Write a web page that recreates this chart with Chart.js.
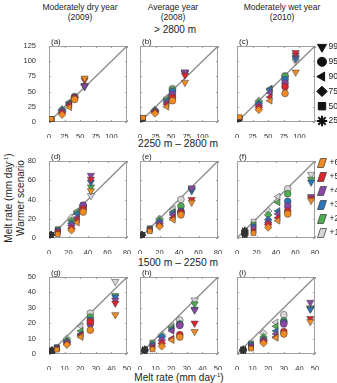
<!DOCTYPE html>
<html><head><meta charset="utf-8">
<script src="https://cdn.jsdelivr.net/npm/chart.js@4"></script>
<style>
body{margin:0;background:#fff;width:337px;height:383px;overflow:hidden;position:relative;font-family:"Liberation Sans",Arial,sans-serif;color:#222}
.box{position:absolute}
.t{position:absolute;white-space:nowrap;transform:translate(-50%,-50%);line-height:1}
.r{position:absolute;white-space:nowrap;transform:translate(-50%,-50%) rotate(-90deg);line-height:1;font-size:10px}
sup{font-size:6px;vertical-align:4px}
</style></head><body>
<div class="t" style="left:80px;top:7px;font-size:8.5px">Moderately dry year</div>
<div class="t" style="left:80px;top:17px;font-size:8.5px">(2009)</div>
<div class="t" style="left:173px;top:7px;font-size:8.5px">Average year</div>
<div class="t" style="left:173px;top:17px;font-size:8.5px">(2008)</div>
<div class="t" style="left:282px;top:7px;font-size:8.5px">Moderately wet year</div>
<div class="t" style="left:282px;top:17px;font-size:8.5px">(2010)</div>
<div class="t" style="left:175px;top:30px;font-size:10px">&gt; 2800 m</div>
<div class="t" style="left:178px;top:144px;font-size:10.3px">2250 m – 2800 m</div>
<div class="t" style="left:178px;top:263px;font-size:10.3px">1500 m – 2250 m</div>
<div class="t" style="left:179px;top:377px;font-size:10px">Melt rate (mm day<sup>-1</sup>)</div>
<div class="r" style="left:8px;top:198px">Melt rate (mm day<sup>-1</sup>)</div>
<div class="r" style="left:21px;top:198px">Warmer scenario</div>

<script>
// warming levels (+1 .. +6 degC) and their colours
const LEVELS = ['+1', '+2', '+3', '+4', '+5', '+6'];
const COLORS = ['#d6d6d6', '#4fae52', '#2b76bb', '#8c47a6', '#d8262e', '#f08b22'];
// melt-rate percentiles, per point: 25th, 50th, 75th, 90th, 95th, 99th
const PCTL = ['25th', '50th', '75th', '90th', '95th', '99th'];
const SHAPES = ['star', 'rect', 'rectRot', 'triangle', 'circle', 'triangle'];
const ROTS = [0, 0, 0, 270, 0, 180];

// > 2800 m
const aX = [2, 4, 21, 33, 41, 57];
const aY = [[3, 5, 21, 33, 42, 58], [3, 5, 20, 32, 41, 59], [3, 4, 19, 31, 40, 60],
            [3, 4, 17, 29, 40, 59], [3, 4, 15, 28, 39, 69], [3, 5, 12, 24, 37, 72]];
const bX = [2, 5, 24, 43, 52, 72];
const bY = [[3, 6, 20, 40, 55, 82], [3, 6, 19, 38, 53, 81], [3, 6, 18, 35, 50, 80],
            [3, 6, 17, 32, 45, 82], [3, 6, 16, 29, 40, 77], [3, 7, 14, 25, 35, 65]];
const cX = [2, 4, 35, 53, 77, 94];
const cY = [[3, 6, 35, 55, 76, 100], [3, 6, 33, 54, 75, 106], [3, 6, 30, 53, 70, 104],
            [3, 6, 27, 48, 64, 110], [3, 7, 24, 41, 58, 114], [3, 8, 20, 35, 47, 82]];
// 2250 - 2800 m
const dX = [2, 9, 23, 29, 35, 43];
const dY = [[3, 9, 21, 28, 31, 44], [3, 9, 18, 27, 33, 53], [3, 8, 15, 25, 34, 58],
            [3, 7, 13, 21, 34, 65], [3, 6, 10, 19, 30, 61], [3, 4, 8, 16, 27, 49]];
const eX = [2, 10, 20, 34, 42, 53];
const eY = [[3, 10, 20, 30, 40, 51], [3, 10, 19, 27, 33, 50], [3, 9, 17, 26, 28, 49],
            [3, 9, 15, 24, 27, 52], [3, 8, 13, 21, 26, 40], [3, 7, 12, 19, 24, 37]];
const fX = [8, 17, 32, 42, 52, 76];
const fY = [[8, 17, 28, 43, 51, 66], [7, 14, 24, 37, 46, 61], [6, 12, 19, 28, 38, 58],
            [5, 10, 16, 25, 33, 43], [4, 7, 14, 21, 28, 41], [3, 5, 11, 18, 25, 39]];
// 1500 - 2250 m
const gX = [2, 5, 11.5, 20.5, 26.5, 42.5];
const gY = [[2.5, 4.5, 10, 18, 26.5, 47], [2.3, 4.3, 9, 15, 24, 38], [2.1, 4, 8, 13, 22, 37],
            [2, 3.8, 7.5, 12.5, 19.5, 35], [1.8, 3.3, 6.5, 12, 21, 33], [1.5, 2.8, 6, 11, 15.5, 25.5]];
const hX = [3, 8, 14, 20.5, 25.5, 35];
const hY = [[3, 7.5, 12.5, 18, 22, 35], [3, 7, 11.5, 17, 19.5, 32.5], [2.8, 6, 11, 16, 19, 29],
            [2.5, 5, 9, 15, 18.5, 28.5], [2.2, 4, 7, 10, 12.5, 20], [1.8, 3, 5, 9, 11, 14.5]];
const iX = [4, 9, 17, 25, 30, 47];
const iY = [[3, 7, 13.5, 20.5, 25.5, 30], [3, 6.5, 11, 18, 21.5, 29.5], [2.8, 6, 9.5, 15, 20.5, 29],
            [2.5, 5, 9, 13, 19.5, 33.5], [2.2, 4, 8, 11, 14.5, 23], [2, 3.5, 7, 10.5, 13, 21]];

const ROW_MAX = [125, 80, 50];
const ROW_STEP = [25, 20, 10];
const COL_X = [49, 140, 237];
const ROW_Y = [46, 161, 277];
const ROW_H = [76, 77, 77];
const PW = 78;

const panels = [
  ['(a)', aX, aY], ['(b)', bX, bY], ['(c)', cX, cY],
  ['(d)', dX, dY], ['(e)', eX, eY], ['(f)', fX, fY],
  ['(g)', gX, gY], ['(h)', hX, hY], ['(i)', iX, iY]
];

const frame = {
  id: 'frame',
  beforeDatasetsDraw(chart, args, o) {
    const {ctx, chartArea: a, scales: {x, y}} = chart;
    ctx.save();
    ctx.strokeStyle = '#a0a0a0'; ctx.lineWidth = 1;
    ctx.strokeRect(a.left + .5, a.top + .5, a.width - 1, a.height - 1);
    ctx.beginPath();
    x.ticks.forEach(t => {
      const p = Math.round(x.getPixelForValue(t.value)) + .5;
      ctx.moveTo(p, a.bottom); ctx.lineTo(p, a.bottom - 2);
      ctx.moveTo(p, a.top); ctx.lineTo(p, a.top + 2);
    });
    y.ticks.forEach(t => {
      const p = Math.round(y.getPixelForValue(t.value)) + .5;
      ctx.moveTo(a.left, p); ctx.lineTo(a.left + 2, p);
      ctx.moveTo(a.right, p); ctx.lineTo(a.right - 2, p);
    });
    ctx.stroke();
    ctx.fillStyle = '#222';
    ctx.font = '8px "Liberation Sans", Arial';
    ctx.textBaseline = 'bottom';
    ctx.fillText(o.label, a.left + 2, a.top);
    ctx.restore();
  }
};

const legends = {
  id: 'legends',
  afterDraw(chart, args, o) {
    if (!o.kind) return;
    const ctx = chart.ctx;
    ctx.save();
    ctx.font = '8.5px "Liberation Sans", Arial';
    ctx.textBaseline = 'middle';
    if (o.kind === 'shape') {
      // 99th at top .. 25th at bottom
      for (let k = 0; k < 6; k++) {
        const j = 5 - k;
        const x = 322 - o.ox, y = 47 + k * 14.8 - o.oy;
        ctx.fillStyle = '#111'; ctx.strokeStyle = '#111'; ctx.lineWidth = j === 0 ? 2 : 1;
        Chart.helpers.drawPoint(ctx, {pointStyle: SHAPES[j], rotation: ROTS[j], radius: j === 4 ? 4.5 : 5.2, borderWidth: 1}, x, y);
        ctx.fillStyle = '#222';
        ctx.fillText(PCTL[j].replace('th', '') , 328.5 - o.ox, y);
      }
    } else {
      for (let k = 0; k < 6; k++) {
        const j = 5 - k;
        const x = 322 - o.ox, y = 163 + k * 14 - o.oy;
        ctx.beginPath();
        ctx.moveTo(x - 4.5, y + 4.5); ctx.lineTo(x + 1.5, y + 4.5);
        ctx.lineTo(x + 4.5, y - 4.5); ctx.lineTo(x - 1.5, y - 4.5); ctx.closePath();
        ctx.fillStyle = COLORS[j]; ctx.fill();
        ctx.strokeStyle = '#444'; ctx.lineWidth = .8; ctx.stroke();
        ctx.fillStyle = '#222';
        ctx.fillText(LEVELS[j] + ' °C', 329.5 - o.ox, y);
      }
    }
    ctx.restore();
  }
};

panels.forEach(([label, xs, ys], n) => {
  const r = Math.floor(n / 3), c = n % 3;
  const max = ROW_MAX[r], step = ROW_STEP[r];
  const left = COL_X[c] - 30, top = ROW_Y[r] - 14;
  const w = c === 2 ? 337 - left : 30 + PW + 8;
  const h = 14 + ROW_H[r] + 16;
  const box = document.createElement('div');
  box.className = 'box';
  box.style.cssText = `left:${left}px;top:${top}px;width:${w}px;height:${h}px`;
  const cv = document.createElement('canvas');
  box.appendChild(cv);
  document.body.appendChild(box);

  const sets = ys.map((vals, k) => ({
    type: 'scatter',
    label: LEVELS[k],
    data: xs.map((x, i) => ({x, y: vals[i]})),
    backgroundColor: COLORS[k],
    borderColor: xs.map((x, i) => i === 0 ? '#333' : 'rgba(60,60,60,0.85)'),
    borderWidth: xs.map((x, i) => i === 0 ? 1.4 : 0.6),
    pointStyle: SHAPES,
    rotation: ROTS,
    pointRadius: [3.6, 3.4, 3.8, 4, 3.4, 4.2],
    order: 6 - k
  }));
  sets.push({
    type: 'line', data: [{x: 0, y: 0}, {x: max, y: max}],
    borderColor: '#8c8c8c', borderWidth: 1.3, pointRadius: 0, order: 10
  });

  new Chart(cv, {
    type: 'scatter',
    data: {datasets: sets},
    options: {
      responsive: true, maintainAspectRatio: false, animation: false,
      layout: {padding: {top: 14, right: w - 30 - PW, left: 0, bottom: 0}},
      plugins: {legend: {display: false}, tooltip: {enabled: false},
        frame: {label},
        legends: {kind: n === 2 ? 'shape' : n === 5 ? 'color' : null, ox: left, oy: top}},
      scales: {
        x: {type: 'linear', min: 0, max, grid: {display: false}, border: {display: false},
          ticks: {stepSize: step, autoSkip: false, maxRotation: 0, padding: 2, color: '#333',
            font: {size: 7.5, family: '"Liberation Sans", Arial'},
            callback: v => (r === 0 && v === 125) ? '' : v},
          afterFit: s => { s.height = 16; s.paddingLeft = 0; s.paddingRight = 0; }},
        y: {type: 'linear', min: 0, max, grid: {display: false}, border: {display: false},
          ticks: {display: c === 0, stepSize: step, autoSkip: false, padding: 5, color: '#333',
            font: {size: 7.5, family: '"Liberation Sans", Arial'}},
          afterFit: s => { s.width = 30; s.paddingTop = 0; s.paddingBottom = 0; }}
      }
    },
    plugins: [frame, legends]
  });
});
</script>
</body></html>
